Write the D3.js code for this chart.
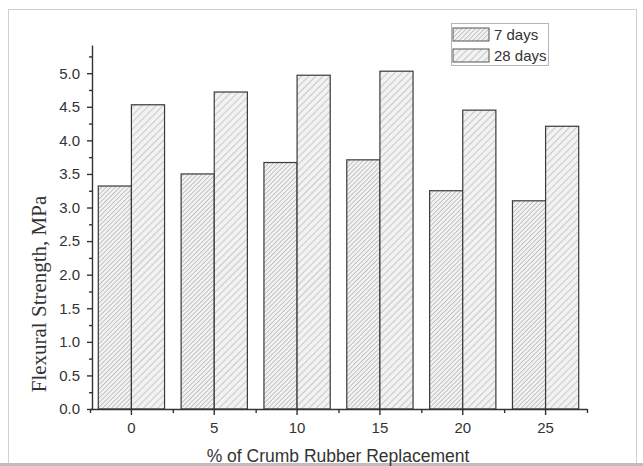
<!DOCTYPE html>
<html>
<head>
<meta charset="utf-8">
<script src="https://cdn.jsdelivr.net/npm/d3@7"></script>
<style>
  body { margin: 0; background: #fff; }
  svg { display: block; }
</style>
</head>
<body>
<div id="chart"></div>
<script>
// chart data
var replacement = ["0", "5", "10", "15", "20", "25"];
var seriesNames = ["7 days", "28 days"];
var days7 = [3.32, 3.50, 3.67, 3.71, 3.25, 3.10];
var days28 = [4.53, 4.72, 4.97, 5.03, 4.45, 4.21];
var yTicks = [0, 0.5, 1, 1.5, 2, 2.5, 3, 3.5, 4, 4.5, 5];

var svgWidth = 643;
var svgHeight = 466;

// plot area in page pixels
var plot = {left: 90, right: 587, top: 45, bottom: 409};

var svg = d3.select("#chart")
  .append("svg")
  .attr("width", svgWidth)
  .attr("height", svgHeight);

// hatch patterns
var defs = svg.append("defs");
function hatch(id, gap, color) {
  var p = defs.append("pattern")
    .attr("id", id)
    .attr("patternUnits", "userSpaceOnUse")
    .attr("width", gap)
    .attr("height", gap)
    .attr("patternTransform", "rotate(45)");
  p.append("rect").attr("width", gap).attr("height", gap).attr("fill", "#f2f2f2");
  p.append("line")
    .attr("x1", 0).attr("y1", 0).attr("x2", 0).attr("y2", gap)
    .attr("stroke", color).attr("stroke-width", 1);
}
hatch("h7", 3.2, "#999");
hatch("h28", 5, "#a0a0a0");
var fills = ["url(#h7)", "url(#h28)"];

// outer frame
svg.append("rect")
  .attr("x", 8.5).attr("y", 9.5)
  .attr("width", 628).attr("height", 454)
  .attr("fill", "none")
  .attr("stroke", "#d0d0d0");
svg.append("rect")
  .attr("x", 0).attr("y", 463)
  .attr("width", svgWidth).attr("height", 3)
  .attr("fill", "#bdbdbd");

// scales
var x0 = d3.scaleBand()
  .domain(replacement)
  .range([plot.left, plot.right])
  .paddingInner(0.2)
  .paddingOuter(0.1);

var x1 = d3.scaleBand()
  .domain(seriesNames)
  .range([0, x0.bandwidth()]);

var y = d3.scaleLinear()
  .domain([0, 5.42])
  .range([plot.bottom, plot.top]);

// bars
var rows = replacement.map(function(d, i) {
  return {cat: d, values: [days7[i], days28[i]]};
});

var groups = svg.append("g").selectAll("g")
  .data(rows)
  .enter().append("g")
  .attr("transform", function(d) { return "translate(" + x0(d.cat) + ",0)"; });

groups.selectAll("rect")
  .data(function(d) {
    return d.values.map(function(v, j) { return {name: seriesNames[j], value: v, j: j}; });
  })
  .enter().append("rect")
  .attr("x", function(d) { return x1(d.name); })
  .attr("y", function(d) { return y(d.value); })
  .attr("width", x1.bandwidth())
  .attr("height", function(d) { return y(0) - y(d.value); })
  .attr("fill", function(d) { return fills[d.j]; })
  .attr("stroke", "#3a3a3a")
  .attr("stroke-width", 1.2);

// x axis
var xAxis = svg.append("g")
  .attr("transform", "translate(0," + plot.bottom + ")")
  .call(d3.axisBottom(x0).tickSizeInner(6).tickSizeOuter(0).tickPadding(7));

var xMinor = d3.scaleLinear().domain([0, replacement.length]).range([plot.left, plot.right]);
svg.append("g")
  .attr("transform", "translate(0," + plot.bottom + ")")
  .call(d3.axisBottom(xMinor).tickValues(d3.range(0, replacement.length + 1)).tickSize(4).tickFormat(""))
  .select(".domain").remove();

// y axis
var yAxis = svg.append("g")
  .attr("transform", "translate(" + (plot.left + 2) + ",0)")
  .call(d3.axisLeft(y).tickValues(yTicks).tickFormat(d3.format(".1f")).tickSizeInner(5).tickSizeOuter(0).tickPadding(7));

svg.append("g")
  .attr("transform", "translate(" + (plot.left + 2) + ",0)")
  .call(d3.axisLeft(y).tickValues(d3.range(0.25, 5.3, 0.5)).tickSize(3).tickFormat(""))
  .select(".domain").remove();

svg.selectAll(".tick line, .domain")
  .attr("stroke", "#333")
  .attr("stroke-width", 1.4);

xAxis.selectAll("text")
  .attr("font-family", "Liberation Sans, Arial, sans-serif")
  .attr("font-size", "15px")
  .attr("fill", "#333");

yAxis.selectAll("text")
  .attr("font-family", "Liberation Sans, Arial, sans-serif")
  .attr("font-size", "15px")
  .attr("fill", "#333");

// axis labels
svg.append("text")
  .attr("x", 338)
  .attr("y", 462)
  .attr("text-anchor", "middle")
  .attr("font-family", "Liberation Sans, Arial, sans-serif")
  .attr("font-size", "17.5px")
  .attr("fill", "#333")
  .text("% of Crumb Rubber Replacement");

svg.append("text")
  .attr("transform", "translate(46,294) rotate(-90)")
  .attr("text-anchor", "middle")
  .attr("font-family", "Liberation Serif, Times New Roman, serif")
  .attr("font-size", "21px")
  .attr("fill", "#333")
  .text("Flexural Strength, MPa");

// legend
var legend = svg.append("g").attr("transform", "translate(451,23)");
legend.append("rect")
  .attr("x", 0.5).attr("y", 0.5)
  .attr("width", 97).attr("height", 42)
  .attr("fill", "#fff")
  .attr("stroke", "#b5b5b5");

var items = legend.selectAll(".item")
  .data(seriesNames)
  .enter().append("g")
  .attr("transform", function(d, i) { return "translate(2," + (5 + i * 21) + ")"; });

items.append("rect")
  .attr("width", 36).attr("height", 13)
  .attr("fill", function(d, i) { return fills[i]; })
  .attr("stroke", "#555");

items.append("text")
  .attr("x", 41)
  .attr("y", 12)
  .attr("font-family", "Liberation Sans, Arial, sans-serif")
  .attr("font-size", "15px")
  .attr("fill", "#333")
  .text(function(d) { return d; });
</script>
</body>
</html>
